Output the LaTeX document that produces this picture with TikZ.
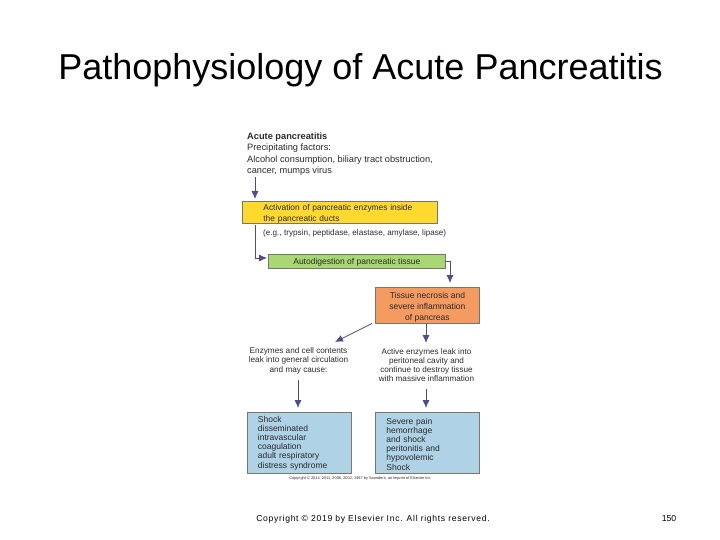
\documentclass[tikz,border=0pt]{standalone}
\usepackage{fontspec}
\setmainfont{Liberation Sans}
\usetikzlibrary{arrows.meta}
\definecolor{arrowc}{HTML}{4F4B8C}
\definecolor{txt}{HTML}{2A2A2A}
\definecolor{edgec}{HTML}{77776A}
\definecolor{yellowc}{HTML}{FFD92E}
\definecolor{greenc}{HTML}{A9D773}
\definecolor{orangec}{HTML}{F59A60}
\definecolor{bluec}{HTML}{AFD2E6}
\tikzset{
  x=1pt,y=-1pt,
  small/.style={font=\fontsize{8.5}{11}\selectfont,text=txt,inner sep=0pt},
  boxed/.style={small,draw=edgec,line width=0.8pt,minimum width=#1,inner sep=0pt},
  conn/.style={draw=arrowc,line width=0.8pt,-{Latex[length=8pt,width=7pt]}},
}
\begin{document}
\begin{tikzpicture}
\useasboundingbox (0,0) rectangle (720,540);
\node[anchor=base,font=\fontsize{36}{40}\selectfont,text=black,inner sep=0pt] (title) at (360.5,80) {Pathophysiology of Acute Pancreatitis};
\node[small,font=\fontsize{9.25}{11.3}\selectfont,anchor=north west,align=left] (head) at (247,132.5) {\textbf{Acute pancreatitis}\\Precipitating factors:\\Alcohol consumption, biliary tract obstruction,\\cancer, mumps virus};
\node[boxed=195.5pt,font=\fontsize{8.4}{11}\selectfont,fill=yellowc,minimum height=22pt,anchor=north west,align=left,text width=195.5pt] (yellowbox) at (241.5,201) {\rule{0pt}{8.2pt}\hspace*{21.5pt}Activation of pancreatic enzymes inside\\\hspace*{21.5pt}the pancreatic ducts};
\node[small,font=\fontsize{8.15}{11}\selectfont,anchor=west] (eg) at (263,233) {(e.g., trypsin, peptidase, elastase, amylase, lipase)};
\node[boxed=177pt,fill=greenc,minimum height=14.5pt,anchor=north west] (greenbox) at (268,253.5) {\rule{0pt}{8.2pt}Autodigestion of pancreatic tissue};
\node[boxed=104pt,fill=orangec,minimum height=36pt,anchor=north west,align=center] (orangebox) at (375,287) {\rule{0pt}{9.3pt}Tissue necrosis and\\severe inflammation\\of pancreas};
\node[small,font=\fontsize{8.2}{9.6}\selectfont,align=center] (leftleak) at (298.5,360.5) {Enzymes and cell contents\\leak into general circulation\\and may cause:};
\node[small,font=\fontsize{8.15}{9.1}\selectfont,align=center] (rightleak) at (426.5,365) {Active enzymes leak into\\peritoneal cavity and\\continue to destroy tissue\\with massive inflammation};
\node[boxed=104pt,minimum height=61pt,anchor=north west,align=left,text width=104pt,fill=bluec] (leftblue) at (247,412) {\hspace*{10.5pt}Shock\\[-1.8pt]\hspace*{10.5pt}disseminated\\[-1.8pt]\hspace*{10.5pt}intravascular\\[-1.8pt]\hspace*{10.5pt}coagulation\\[-1.8pt]\hspace*{10.5pt}adult respiratory\\[-1.8pt]\hspace*{10.5pt}distress syndrome\\[4pt]};
\node[boxed=104pt,minimum height=61pt,anchor=north west,align=left,text width=104pt,fill=bluec] (rightblue) at (375,412) {\rule{0pt}{8.6pt}\hspace*{11pt}Severe pain\\[-1.8pt]\hspace*{11pt}hemorrhage\\[-1.8pt]\hspace*{11pt}and shock\\[-1.8pt]\hspace*{11pt}peritonitis and\\[-1.8pt]\hspace*{11pt}hypovolemic\\[-1.8pt]\hspace*{11pt}Shock};
\node[font=\fontsize{3.9}{4}\selectfont,text=txt,inner sep=0pt] (smallcopy) at (360.5,478.5) {Copyright © 2014, 2011, 2006, 2002, 1997 by Saunders, an imprint of Elsevier Inc.};
\node[font=\fontsize{8.6}{10}\selectfont,text=black,inner sep=0pt] (copy) at (373,519) {\addfontfeature{LetterSpace=8}Copyright © 2019 by Elsevier Inc. All rights reserved.};
\node[font=\fontsize{8.7}{10}\selectfont,text=black,inner sep=0pt] (page) at (669,519) {150};
\coordinate (a1) at (255,177); \coordinate (a1e) at (255,199);
\coordinate (a2) at (255,225); \coordinate (a2m) at (255,258); \coordinate (a2e) at (267,258);
\coordinate (a3) at (445,261); \coordinate (a3m) at (450,261); \coordinate (a3e) at (450,283);
\coordinate (a4) at (372,323.5); \coordinate (a4e) at (335,342);
\coordinate (a5) at (426,323.5); \coordinate (a5e) at (426,343);
\coordinate (a6) at (298,380); \coordinate (a6e) at (298,408);
\coordinate (a7) at (426,389); \coordinate (a7e) at (426,408);
\draw[conn] (a1) -- (a1e);
\draw[conn] (a2) -- (a2m) -- (a2e);
\draw[conn] (a3) -- (a3m) -- (a3e);
\draw[conn] (a4) -- (a4e);
\draw[conn] (a5) -- (a5e);
\draw[conn] (a6) -- (a6e);
\draw[conn] (a7) -- (a7e);
\end{tikzpicture}
\end{document}
